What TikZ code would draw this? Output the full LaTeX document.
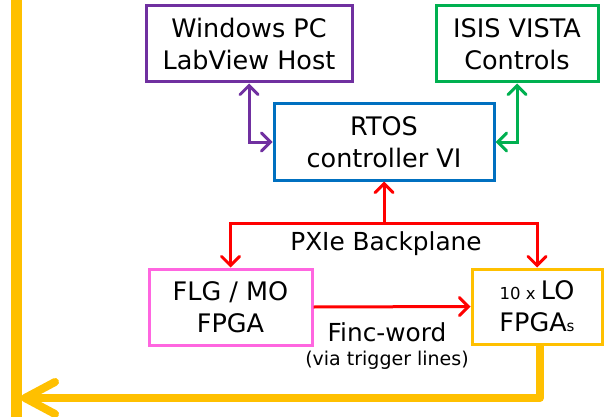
\documentclass[tikz,border=0pt]{standalone}
\usepackage{fontspec}
\setmainfont{DejaVu Sans}
\usetikzlibrary{arrows.meta}
\definecolor{cpurple}{HTML}{7030A0}
\definecolor{cgreen}{HTML}{00B050}
\definecolor{cblue}{HTML}{0070C0}
\definecolor{cred}{HTML}{FF0000}
\definecolor{cpink}{HTML}{FF66E0}
\definecolor{corange}{HTML}{FFC000}
\begin{document}
\begin{tikzpicture}[x=1pt,y=-1pt,
  box/.style={draw,line width=3pt,inner sep=0pt,align=center,font=\fontsize{25.5}{32}\selectfont},
  link/.style={line width=3pt,arrows={Straight Barb[length=9pt,width=18pt,line cap=round]-Straight Barb[length=9pt,width=18pt,line cap=round]}},
  onelink/.style={line width=3pt,-{Straight Barb[length=9pt,width=18pt,line cap=round]}},
  lbl/.style={inner sep=0pt,font=\fontsize{24.8}{26}\selectfont},
  small/.style={inner sep=0pt,font=\fontsize{19}{22}\selectfont}
]
\useasboundingbox (0,0) rectangle (607,417);
\node[box,draw=cpurple,minimum width=206pt,minimum height=76pt] (pc) at (249,44) {Windows PC\\LabView Host};
\node[box,draw=cgreen,minimum width=162pt,minimum height=76pt] (isis) at (517,44) {ISIS VISTA\\Controls};
\node[box,draw=cblue,minimum width=220pt,minimum height=76pt] (rtos) at (384,142) {RTOS\\controller VI};
\node[box,draw=cpink,minimum width=163pt,minimum height=76pt] (flg) at (230.5,307) {FLG / MO\\FPGA};
\node[box,draw=corange,minimum width=130pt,minimum height=75pt] (lo) at (537,306.5) {{\fontsize{16.5}{18}\selectfont 10 x }LO\\FPGA{\fontsize{15}{18}\selectfont s}};
\node[lbl] (pxie) at (386,244) {PXIe Backplane};
\node[lbl] (finc) at (387,332) {Finc-word};
\node[small] (via) at (387,360) {(via trigger lines)};
\coordinate (bp) at (384,223);
\coordinate (obot) at (540,398);
\coordinate (oleft) at (21,398);
\coordinate (vtop) at (16,0);
\coordinate (vbot) at (16,417);
\draw[link,cpurple] (pc.south) |- (rtos.west);
\draw[link,cgreen] (isis.south) |- (rtos.east);
\draw[onelink,cred] (bp) -- (rtos.south);
\draw[onelink,cred] (bp) -| (flg.north);
\draw[onelink,cred] (bp) -| (lo.north);
\draw[onelink,cred] (flg.east) -- (lo.west);
\draw[corange,line width=11pt] (vtop) -- (vbot);
\draw[corange,line width=8pt,line join=round,-{Straight Barb[length=30pt,width=32pt,line cap=round,line join=round]}] (lo.south -| obot) -- (obot) -- (oleft);
\end{tikzpicture}
\end{document}
